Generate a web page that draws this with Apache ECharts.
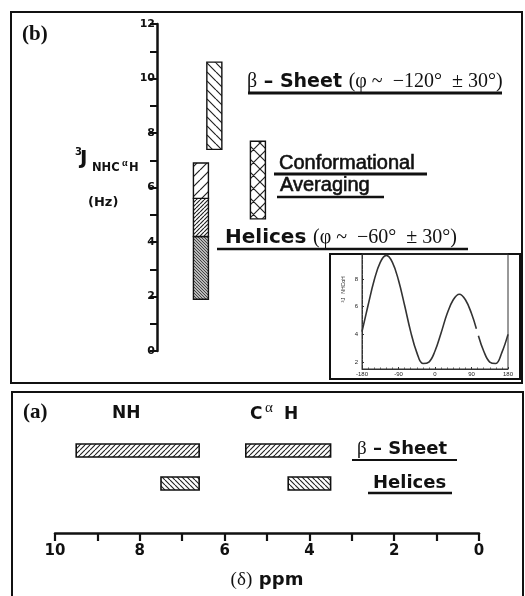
<!DOCTYPE html>
<html>
<head>
<meta charset="utf-8">
<script src="https://cdn.jsdelivr.net/npm/echarts@6/dist/echarts.min.js"></script>
<style>html,body{margin:0;padding:0;background:#fff}#c{width:525px;height:596px}</style>
</head>
<body>
<div id="c"></div>
<script>
// ---------- data ----------
// panel (b): 3J(NH-CaH) ranges in Hz
const jSheet = [7.4, 10.6];
const jHelix = [1.9, 4.2, 5.6, 6.9];      // segment boundaries (low -> high)
const jAveraging = [4.85, 7.7];
const jTicks = [0, 2, 4, 6, 8, 10, 12];

// inset: Karplus curve (phi in degrees, J in Hz)
const insetPhi = [-180,-165,-150,-135,-120,-105,-90,-75,-60,-45,-30,-15,0,15,30,45,60,75,90,102,104,107,120,135,150,165,180];
const insetJ   = [4.2,6.1,7.9,9.2,9.7,9.2,7.9,6.1,4.2,2.7,1.9,2.0,2.8,4.1,5.5,6.5,6.9,6.5,5.5,4.4,null,3.9,2.8,2.0,1.9,2.7,4.0];
const insetXTicks = [-180, -90, 0, 90, 180];
const insetYTicks = [2, 4, 6, 8];

// panel (a): chemical shift ranges (ppm)
const nhSheet = [6.6, 9.5];
const caSheet = [3.5, 5.5];
const nhHelix = [6.6, 7.5];
const caHelix = [3.5, 4.5];
const ppmTicks = [0, 2, 4, 6, 8, 10];

// ---------- layout / style helpers ----------
const colX = {helix: 12.1, sheet: 15.8, avg: 27.8};   // panel (b) column slots
const rowY = {sheet: 2.5, helix: 1.5};               // panel (a) rows

function hatch(size, dirs, lw, color, bg) {
  const c = document.createElement('canvas');
  c.width = size; c.height = size;
  const g = c.getContext('2d');
  g.fillStyle = bg || '#fff';
  g.fillRect(0, 0, size, size);
  g.strokeStyle = color; g.lineWidth = lw;
  g.beginPath();
  for (const d of dirs) {
    for (let k = -1; k <= 1; k++) {
      if (d === '/') { g.moveTo(k*size, size); g.lineTo(k*size+size, 0); }
      else { g.moveTo(k*size, 0); g.lineTo(k*size+size, size); }
    }
  }
  g.stroke();
  return {image: c, repeat: 'repeat'};
}
const pats = [
  hatch(9, '\\', 1.2, '#222'),          // 0 sheet (b)
  hatch(3, '\\', 1, '#444', '#b8b8b8'), // 1 helix low
  hatch(4, '/', 1.2, '#222'),           // 2 helix mid
  hatch(10, '/', 1.2, '#222'),          // 3 helix top
  hatch(13, '/\\', 1.2, '#222'),        // 4 averaging
  hatch(5, '/', 1.1, '#222'),           // 5 sheet (a)
  hatch(5, '\\', 1.1, '#222')           // 6 helix (a)
];

const bData = [
  [colX.sheet, jSheet[0], jSheet[1], 0],
  [colX.helix, jHelix[0], jHelix[1], 1],
  [colX.helix, jHelix[1], jHelix[2], 2],
  [colX.helix, jHelix[2], jHelix[3], 3],
  [colX.avg, jAveraging[0], jAveraging[1], 4]
];
const aData = [
  [nhSheet[0], nhSheet[1], rowY.sheet, 5],
  [caSheet[0], caSheet[1], rowY.sheet, 5],
  [nhHelix[0], nhHelix[1], rowY.helix, 6],
  [caHelix[0], caHelix[1], rowY.helix, 6]
];
const insetData = insetPhi.map((p, i) => [p, insetJ[i]]);

const SANS = '"DejaVu Sans"';
const SERIF = '"Liberation Serif"';
const ARIAL = '"Liberation Sans"';

function txt(x, y, text, font, extra) {
  return Object.assign({type: 'text', z: 5, style: Object.assign({
    x: x, y: y, text: text, font: font, fill: '#111',
    textAlign: 'left', textVerticalAlign: 'middle', align: 'left', verticalAlign: 'middle'
  }, extra || {})});
}
function uline(x1, x2, y, w) {
  return {type: 'line', z: 5, shape: {x1: x1, y1: y, x2: x2, y2: y}, style: {stroke: '#111', lineWidth: w || 2.5}};
}

const chart = echarts.init(document.getElementById('c'), null, {renderer: 'canvas'});
chart.setOption({
  backgroundColor: '#fff',
  animation: false,
  grid: [
    {left: 157, top: 24, width: 363, height: 327},
    {left: 362, top: 254, width: 146, height: 115, show: true, borderColor: '#333', borderWidth: 1, z: 3},
    {left: 55, top: 401, width: 424, height: 132}
  ],
  xAxis: [
    {gridIndex: 0, type: 'value', min: 0, max: 100, show: false},
    {gridIndex: 1, type: 'value', min: -180, max: 180, interval: 90, z: 4,
      axisLine: {onZero: false, lineStyle: {color: '#333', width: 1}},
      axisTick: {inside: true, length: 2, lineStyle: {color: '#333'}},
      minorTick: {show: true, splitNumber: 6, length: 1.5, lineStyle: {color: '#555'}},
      axisLabel: {fontSize: 6, color: '#222', margin: 2, fontFamily: ARIAL},
      splitLine: {show: false}},
    {gridIndex: 2, type: 'value', min: 0, max: 10, interval: 2, inverse: true, position: 'bottom',
      axisLine: {onZero: false, lineStyle: {color: '#111', width: 2.5}},
      axisTick: {length: 8, lineStyle: {color: '#111', width: 2.2}},
      minorTick: {show: true, splitNumber: 2, length: 8, lineStyle: {color: '#111', width: 2.2}},
      axisLabel: {fontSize: 15, fontWeight: 'bold', fontFamily: SANS, color: '#111', margin: 11},
      splitLine: {show: false},
      name: '{s|(δ)}  {b|ppm}', nameLocation: 'middle', nameGap: 38,
      nameTextStyle: {rich: {
        s: {fontFamily: SERIF, fontSize: 19, color: '#111'},
        b: {fontFamily: SANS, fontWeight: 'bold', fontSize: 18, color: '#111'}
      }}}
  ],
  yAxis: [
    {gridIndex: 0, type: 'value', min: 0, max: 12, interval: 2,
      axisLine: {show: true, onZero: false, lineStyle: {color: '#111', width: 2.5}},
      axisTick: {show: true, length: 7, lineStyle: {color: '#111', width: 2}},
      minorTick: {show: true, splitNumber: 2, length: 7, lineStyle: {color: '#111', width: 2}},
      axisLabel: {fontSize: 11, fontWeight: 'bold', fontFamily: SANS, color: '#111', margin: 2},
      splitLine: {show: false}},
    {gridIndex: 1, type: 'value', min: 1.5, max: 9.8, z: 4,
      axisLine: {show: true, onZero: false, lineStyle: {color: '#333', width: 1, type: [4, 1]}},
      axisTick: {show: true, inside: true, length: 2, customValues: insetYTicks, lineStyle: {color: '#333'}},
      axisLabel: {fontSize: 6, color: '#222', margin: 4, fontFamily: ARIAL, customValues: insetYTicks},
      splitLine: {show: false}},
    {gridIndex: 2, type: 'value', min: 0, max: 4, show: false}
  ],
  series: [
    {type: 'custom', xAxisIndex: 0, yAxisIndex: 0, data: bData, encode: {x: 0, y: [1, 2]},
      renderItem: function (params, api) {
        const x = api.value(0), lo = api.value(1), hi = api.value(2), pi = api.value(3);
        const a = api.coord([x, lo]), b = api.coord([x, hi]);
        const w = 15;
        return {type: 'rect', shape: {x: a[0] - w / 2, y: b[1], width: w, height: a[1] - b[1]},
          style: {fill: pats[pi], stroke: '#111', lineWidth: 1.4}};
      }},
    {type: 'custom', xAxisIndex: 2, yAxisIndex: 2, data: aData, encode: {x: [0, 1], y: 2},
      renderItem: function (params, api) {
        const lo = api.value(0), hi = api.value(1), r = api.value(2), pi = api.value(3);
        const a = api.coord([lo, r]), b = api.coord([hi, r]);
        const h = 13;
        const x0 = Math.min(a[0], b[0]);
        return {type: 'rect', shape: {x: x0, y: a[1] - h / 2, width: Math.abs(a[0] - b[0]), height: h},
          style: {fill: pats[pi], stroke: '#111', lineWidth: 1.6}};
      }},
    {type: 'line', xAxisIndex: 1, yAxisIndex: 1, data: insetData, showSymbol: false, smooth: 0.4,
      connectNulls: false, z: 5, lineStyle: {color: '#333', width: 1.6}}
  ],
  graphic: [
    // panel frames
    {type: 'rect', z: -1, shape: {x: 11, y: 12, width: 511, height: 371}, style: {fill: 'none', stroke: '#111', lineWidth: 2}},
    {type: 'rect', z: -1, shape: {x: 12, y: 392, width: 511, height: 210}, style: {fill: 'none', stroke: '#111', lineWidth: 2}},
    // inset frame
    {type: 'rect', z: 1, shape: {x: 330, y: 254, width: 190, height: 125}, style: {fill: '#fff', stroke: '#111', lineWidth: 2}},
    txt(22, 35, '(b)', 'bold 21px ' + SERIF),
    txt(23, 413, '(a)', 'bold 21px ' + SERIF),
    // y-axis title panel (b)
    txt(75, 152, '3', 'bold 10px ' + SANS),
    txt(80, 159, 'J', 'bold 20px ' + SANS),
    txt(92, 168, 'NHC', 'bold 11.5px ' + SANS),
    txt(122, 163, 'α', 'bold 10px ' + SERIF),
    txt(129, 168, 'H', 'bold 11.5px ' + SANS),
    txt(88, 203, '(Hz)', 'bold 13px ' + SANS),
    // annotations panel (b)
    {type: 'text', z: 5, style: {x: 247, y: 82, textVerticalAlign: 'middle', verticalAlign: 'middle',
      text: '{s|β}{b| – Sheet}  {s|(φ ~  −120°  ± 30°)}',
      rich: {s: {fontFamily: SERIF, fontSize: 20, fill: '#111', color: '#111'},
             b: {fontFamily: SANS, fontWeight: 'bold', fontSize: 19, fill: '#111', color: '#111'}}}},
    uline(248, 502, 93, 2.8),
    txt(279, 163, 'Conformational', '20px ' + ARIAL, {stroke: '#111', lineWidth: 0.6}),
    uline(274, 427, 174, 3),
    txt(280, 185, 'Averaging', '20px ' + ARIAL, {stroke: '#111', lineWidth: 0.6}),
    uline(277, 384, 197, 2.5),
    {type: 'text', z: 5, style: {x: 225, y: 238, textVerticalAlign: 'middle', verticalAlign: 'middle',
      text: '{b|Helices}  {s|(φ ~  −60°  ± 30°)}',
      rich: {s: {fontFamily: SERIF, fontSize: 20, fill: '#111', color: '#111'},
             b: {fontFamily: SANS, fontWeight: 'bold', fontSize: 20, fill: '#111', color: '#111'}}}},
    uline(217, 468, 249, 2.5),
    // inset y title
    {type: 'text', z: 6, rotation: Math.PI / 2, x: 343, y: 300,
      style: {x: 0, y: 0, text: '³J', font: '6px ' + ARIAL, fill: '#222', textAlign: 'center', align: 'center', textVerticalAlign: 'middle', verticalAlign: 'middle'}},
    {type: 'text', z: 6, rotation: Math.PI / 2, x: 344, y: 285,
      style: {x: 0, y: 0, text: 'NHCαH', font: '5px ' + ARIAL, fill: '#222', textAlign: 'center', align: 'center', textVerticalAlign: 'middle', verticalAlign: 'middle'}},
    // panel (a) labels
    txt(112, 414, 'NH', 'bold 17px ' + SANS),
    txt(250, 415, 'C', 'bold 17px ' + SANS),
    txt(265, 408, 'α', '15px ' + SERIF),
    txt(284, 415, 'H', 'bold 17px ' + SANS),
    {type: 'text', z: 5, style: {x: 357, y: 449, textVerticalAlign: 'middle', verticalAlign: 'middle',
      text: '{s|β}{b| – Sheet}',
      rich: {s: {fontFamily: SERIF, fontSize: 19, fill: '#111', color: '#111'},
             b: {fontFamily: SANS, fontWeight: 'bold', fontSize: 18, fill: '#111', color: '#111'}}}},
    uline(352, 457, 460, 2),
    txt(373, 483, 'Helices', 'bold 18px ' + SANS),
    uline(368, 452, 493, 2.5)
  ]
});
</script>
</body>
</html>
